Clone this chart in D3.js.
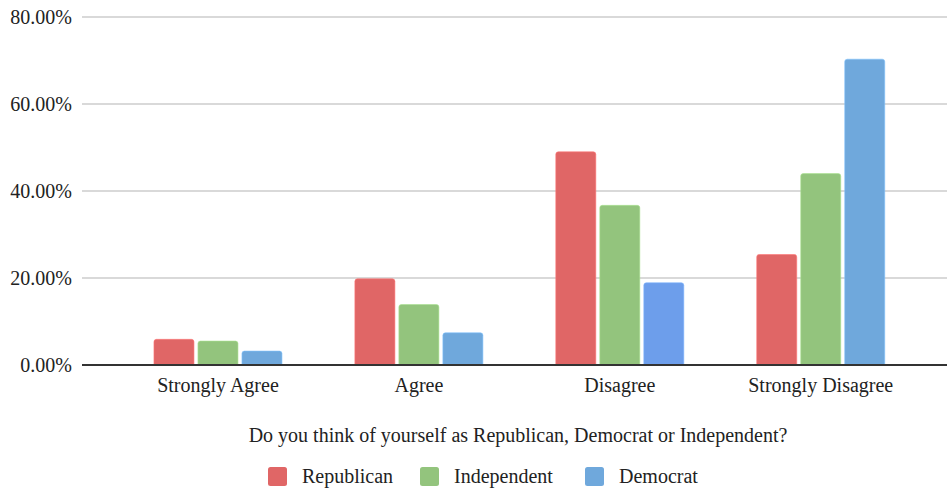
<!DOCTYPE html>
<html>
<head>
<meta charset="utf-8">
<script src="https://cdn.jsdelivr.net/npm/d3@7"></script>
<style>
  html, body { margin: 0; padding: 0; background: #fff; }
  svg text { font-family: "Liberation Serif", "Times New Roman", Times, serif; fill: #222; }
</style>
</head>
<body>
<svg id="chart" width="947" height="491"></svg>
<script>
// Survey responses by party identification (percent of each group)
const categories = ["Strongly Agree", "Agree", "Disagree", "Strongly Disagree"];
const seriesNames = ["Republican", "Independent", "Democrat"];
const republican = [5.9, 19.8, 49.0, 25.4];
const independent = [5.5, 13.9, 36.7, 44.0];
const democrat = [3.2, 7.4, 18.9, 70.3];
const yTicks = [0, 20, 40, 60, 80];
const seriesColors = ["#e06666", "#93c47d", "#6fa8dc"];
// one bar in the sheet carries its own custom fill
const pointColors = { "Democrat|Disagree": "#6d9eeb" };
const axisTitle = "Do you think of yourself as Republican, Democrat or Independent?";

const seriesValues = [republican, independent, democrat];
const rows = categories.map((c, i) => ({
  category: c,
  values: seriesNames.map((s, j) => ({ series: s, value: seriesValues[j][i], color: pointColors[s + "|" + c] || seriesColors[j] }))
}));

const svg = d3.select("#chart");
const W = 947, H = 491;
svg.append("rect").attr("width", W).attr("height", H).attr("fill", "#fff");

const plotLeft = 82, plotRight = 947;
const y = d3.scaleLinear().domain([0, 80]).range([365, 17]);
const x0 = d3.scaleBand().domain(categories).range([117.5, 921.2]);
const groupW = 128;
const x1 = d3.scaleBand().domain(seriesNames)
  .range([(x0.bandwidth() - groupW) / 2, (x0.bandwidth() + groupW) / 2])
  .paddingInner(4 / 44);

// gridlines
svg.append("g").selectAll("line").data(yTicks.filter(t => t > 0)).join("line")
  .attr("x1", plotLeft).attr("x2", plotRight)
  .attr("y1", d => y(d)).attr("y2", d => y(d))
  .attr("stroke", "#cccccc").attr("stroke-width", 1.3);

// y tick labels
svg.append("g").selectAll("text").data(yTicks).join("text")
  .attr("x", 72).attr("y", d => y(d)).attr("dy", "0.35em")
  .attr("text-anchor", "end").attr("font-size", 20)
  .text(d => d3.format(".2f")(d) + "%");

// bars with rounded top corners
function barPath(xl, w, yt, yb, r) {
  r = Math.min(r, (yb - yt), w / 2);
  return `M${xl},${yb}V${yt + r}Q${xl},${yt} ${xl + r},${yt}H${xl + w - r}Q${xl + w},${yt} ${xl + w},${yt + r}V${yb}Z`;
}
const groups = svg.append("g").selectAll("g").data(rows).join("g")
  .attr("transform", d => `translate(${x0(d.category)},0)`);
groups.selectAll("path").data(d => d.values).join("path")
  .attr("d", d => barPath(x1(d.series), x1.bandwidth(), y(d.value), y(0), 2.5))
  .attr("fill", d => d.color)
  .attr("stroke", d => d3.color(d.color).brighter(0.4))
  .attr("stroke-width", 0.6);

// baseline axis
svg.append("line").attr("x1", plotLeft).attr("x2", plotRight)
  .attr("y1", y(0)).attr("y2", y(0))
  .attr("stroke", "#333").attr("stroke-width", 2);

// category labels
svg.append("g").selectAll("text").data(categories).join("text")
  .attr("x", d => x0(d) + x0.bandwidth() / 2).attr("y", 391.5)
  .attr("text-anchor", "middle").attr("font-size", 20)
  .text(d => d);

// axis title
svg.append("text").attr("x", 518).attr("y", 441.5)
  .attr("text-anchor", "middle").attr("font-size", 20)
  .text(axisTitle);

// legend
const legendX = [268, 420, 585];
const legend = svg.append("g").selectAll("g").data(seriesNames).join("g")
  .attr("transform", (d, i) => `translate(${legendX[i]},467)`);
legend.append("rect").attr("width", 19).attr("height", 19).attr("rx", 2.5)
  .attr("fill", (d, i) => seriesColors[i]);
legend.append("text").attr("x", 34).attr("y", 15.7).attr("font-size", 20)
  .text(d => d);
</script>
</body>
</html>
